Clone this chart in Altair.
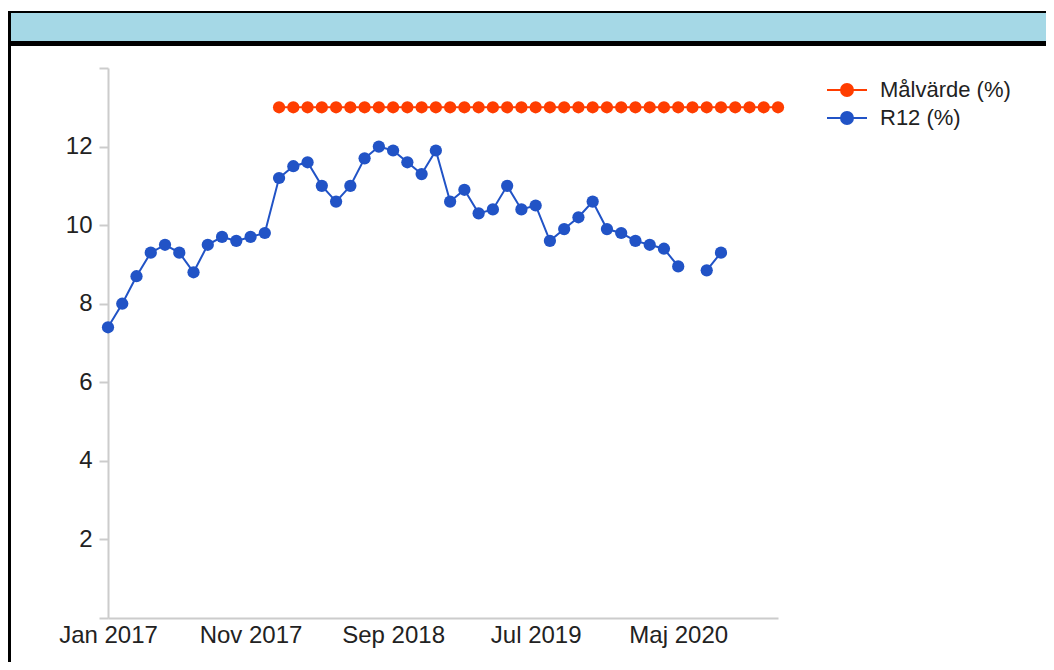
import altair as alt
import pandas as pd

# month index 0 = Jan 2017 ... 47 = Dec 2020
months = list(range(48))

r12 = [7.4, 8.0, 8.7, 9.3, 9.5, 9.3, 8.8, 9.5, 9.7, 9.6, 9.7, 9.8,
       11.2, 11.5, 11.6, 11.0, 10.6, 11.0, 11.7, 12.0, 11.9, 11.6, 11.3, 11.9,
       10.6, 10.9, 10.3, 10.4, 11.0, 10.4, 10.5, 9.6, 9.9, 10.2, 10.6, 9.9,
       9.8, 9.6, 9.5, 9.4, 8.95, None, 8.85, 9.3, None, None, None, None]

malvarde = [None, None, None, None, None, None, None, None, None, None, None, None,
            13, 13, 13, 13, 13, 13, 13, 13, 13, 13, 13, 13,
            13, 13, 13, 13, 13, 13, 13, 13, 13, 13, 13, 13,
            13, 13, 13, 13, 13, 13, 13, 13, 13, 13, 13, 13]

series_names = ["Målvärde (%)", "R12 (%)"]
series_colors = ["#ff3d00", "#2153c6"]

tick_pos = [0, 10, 20, 30, 40]
tick_labels = ["Jan 2017", "Nov 2017", "Sep 2018", "Jul 2019", "Maj 2020"]
y_ticks = [0, 2, 4, 6, 8, 10, 12, 14]

rows = []
for m, v in zip(months, malvarde):
    if v is not None:
        rows.append({"month": m, "value": v, "series": series_names[0]})
for m, v in zip(months, r12):
    if m <= 43:
        rows.append({"month": m, "value": v, "series": series_names[1]})
df = pd.DataFrame(rows)

FONT = "Liberation Sans, Arial"

x_label_expr = " : ".join(
    f"datum.value == {p} ? '{l}'" for p, l in zip(tick_pos, tick_labels)
) + " : ''"

legend_symbol = ("M-2,0L2,0 M-0.6,0 A0.6,0.6 0 1,0 0.6,0 "
                 "A0.6,0.6 0 1,0 -0.6,0 Z")

lines = alt.Chart(df).mark_line(
    strokeWidth=2,
    point=alt.OverlayMarkDef(filled=True, size=150, opacity=1),
).encode(
    x=alt.X("month:Q",
            scale=alt.Scale(domain=[0, 47], nice=False, zero=False),
            axis=alt.Axis(values=tick_pos, labelExpr=x_label_expr, title=None,
                          grid=False, ticks=False, domainColor="#cccccc",
                          domainWidth=2, labelFont=FONT, labelFontSize=24,
                          labelColor="#222222", labelPadding=5,
                          labelFlush=False, labelOverlap=False)),
    y=alt.Y("value:Q",
            scale=alt.Scale(domain=[0, 14], nice=False),
            axis=alt.Axis(values=y_ticks,
                          labelExpr="datum.value == 0 || datum.value == 14 ? '' : datum.label",
                          title=None, grid=False, tickColor="#cccccc", tickSize=9,
                          tickWidth=2, domainColor="#cccccc", domainWidth=2,
                          labelFont=FONT, labelFontSize=24, labelColor="#222222",
                          labelPadding=7)),
    color=alt.Color("series:N",
                    scale=alt.Scale(domain=series_names, range=series_colors),
                    legend=alt.Legend(title=None, orient="none", legendX=728,
                                      legendY=11, padding=0,
                                      symbolType=legend_symbol,
                                      symbolSize=400, symbolStrokeWidth=2,
                                      labelFont=FONT, labelFontSize=22,
                                      labelColor="#222222", rowPadding=6,
                                      labelOffset=22)),
)

one = pd.DataFrame({"a": [0]})
frame_top = alt.Chart(one).mark_rect(color="black").encode(
    x=alt.value(-100), x2=alt.value(938), y=alt.value(-57), y2=alt.value(-22))
frame_blue = alt.Chart(one).mark_rect(color="#a5d8e6").encode(
    x=alt.value(-97), x2=alt.value(938), y=alt.value(-55), y2=alt.value(-27))
frame_left = alt.Chart(one).mark_rect(color="black").encode(
    x=alt.value(-100), x2=alt.value(-97), y=alt.value(-57), y2=alt.value(620))

chart = alt.layer(frame_top, frame_blue, frame_left, lines).properties(
    width=670, height=550,
    background="white",
    autosize=alt.AutoSizeParams(type="none"),
    padding={"left": 100, "top": 60, "right": 268, "bottom": 44},
).configure_view(strokeWidth=0, stroke=None)

chart.save("out.html", embed_options={"renderer": "svg", "actions": False})
